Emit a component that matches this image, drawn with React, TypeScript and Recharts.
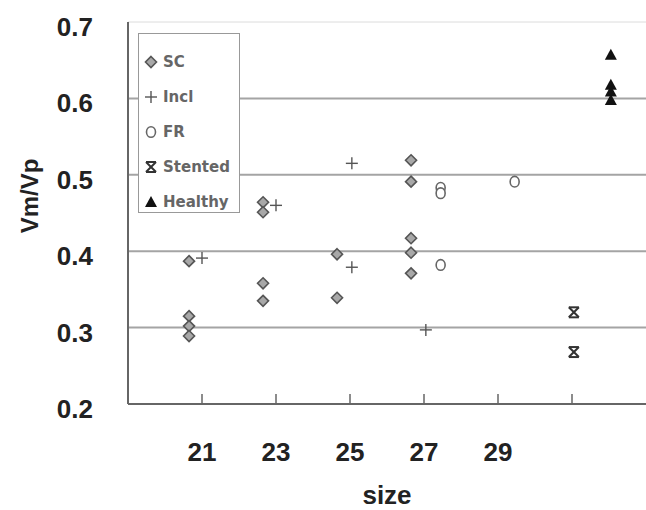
import React from 'react';
import { ScatterChart, Scatter, XAxis, YAxis, CartesianGrid, Legend } from 'recharts';

// ---- data ----
const sizeTicks = [21, 23, 25, 27, 29, 31];
const sizeTickLabels = ['21', '23', '25', '27', '29', ''];
const ratioTicks = [0.2, 0.3, 0.4, 0.5, 0.6, 0.7];
const gridValues = [0.3, 0.4, 0.5, 0.6];
const topGridValues = [0.7];

const scSize = [20.65, 20.65, 20.65, 20.65, 22.65, 22.65, 22.65, 22.65, 24.65, 24.65, 26.65, 26.65, 26.65, 26.65, 26.65];
const scRatio = [0.387, 0.315, 0.302, 0.289, 0.464, 0.451, 0.358, 0.335, 0.396, 0.339, 0.519, 0.491, 0.417, 0.398, 0.371];

const inclSize = [21.0, 23.0, 25.05, 25.05, 27.05];
const inclRatio = [0.391, 0.46, 0.515, 0.379, 0.297];

const frSize = [27.45, 27.45, 27.45, 29.45];
const frRatio = [0.483, 0.476, 0.382, 0.491];

const stentedSize = [31.05, 31.05];
const stentedRatio = [0.32, 0.268];

const healthySize = [32.05, 32.05, 32.05, 32.05];
const healthyRatio = [0.657, 0.618, 0.609, 0.598];

const seriesNames = ['SC', 'Incl', 'FR', 'Stented', 'Healthy'];
const seriesKinds = ['sc', 'incl', 'fr', 'stented', 'healthy'];

const toPoints = (xs: number[], ys: number[]) => xs.map((x, i) => ({ x, y: ys[i] }));

const scData = toPoints(scSize, scRatio);
const inclData = toPoints(inclSize, inclRatio);
const frData = toPoints(frSize, frRatio);
const stentedData = toPoints(stentedSize, stentedRatio);
const healthyData = toPoints(healthySize, healthyRatio);

const AXIS_FONT = '"Liberation Sans", Arial, sans-serif';
const LEGEND_FONT = '"DejaVu Sans", sans-serif';

function Marker({ kind, cx, cy }: { kind: string; cx: number; cy: number }) {
  if (cx == null || cy == null) return null;
  switch (kind) {
    case 'sc':
      return (
        <polygon
          points={`${cx},${cy - 5.5} ${cx + 5.5},${cy} ${cx},${cy + 5.5} ${cx - 5.5},${cy}`}
          fill="#a8a8a8"
          stroke="#555"
          strokeWidth={1.6}
        />
      );
    case 'incl':
      return (
        <g stroke="#555" strokeWidth={1.4}>
          <line x1={cx - 6} y1={cy} x2={cx + 6} y2={cy} />
          <line x1={cx} y1={cy - 6} x2={cx} y2={cy + 6} />
        </g>
      );
    case 'fr':
      return <ellipse cx={cx} cy={cy} rx={4.5} ry={5.3} fill="#fff" stroke="#666" strokeWidth={1.6} />;
    case 'stented':
      return (
        <g stroke="#333" strokeWidth={2}>
          <line x1={cx - 5} y1={cy - 5} x2={cx + 5} y2={cy + 5} />
          <line x1={cx + 5} y1={cy - 5} x2={cx - 5} y2={cy + 5} />
          <line x1={cx - 5} y1={cy - 5} x2={cx + 5} y2={cy - 5} />
          <line x1={cx - 5} y1={cy + 5} x2={cx + 5} y2={cy + 5} />
        </g>
      );
    case 'healthy':
      return <polygon points={`${cx},${cy - 6} ${cx + 6},${cy + 5} ${cx - 6},${cy + 5}`} fill="#111" />;
    default:
      return null;
  }
}

const shapeFor = (kind: string) => (p: any) => <Marker kind={kind} cx={p.cx} cy={p.cy} />;

function XTick(props: any) {
  const { x, y, payload } = props;
  const idx = sizeTicks.indexOf(payload.value);
  const label = idx >= 0 ? sizeTickLabels[idx] : '';
  return (
    <g>
      <line x1={x} y1={y - 10} x2={x} y2={y} stroke="#666" strokeWidth={1.5} />
      <text x={x} y={y + 57} textAnchor="middle" fontFamily={AXIS_FONT} fontWeight="bold" fontSize={26} fill="#222">
        {label}
      </text>
    </g>
  );
}

function YTick(props: any) {
  const { x, y, payload } = props;
  return (
    <text x={x - 35} y={y + 14} textAnchor="end" fontFamily={AXIS_FONT} fontWeight="bold" fontSize={26} fill="#222">
      {Number(payload.value).toFixed(1)}
    </text>
  );
}

function YLabel(props: any) {
  const vb = props.viewBox || { x: 0, y: 22, width: 128, height: 382 };
  const cx = vb.x + 38;
  const cy = vb.y + vb.height / 2 - 17;
  return (
    <text
      transform={`translate(${cx},${cy}) rotate(-90)`}
      textAnchor="middle"
      fontFamily={AXIS_FONT}
      fontWeight="bold"
      fontSize={24}
      fill="#222"
    >
      Vm/Vp
    </text>
  );
}

function XLabel(props: any) {
  const vb = props.viewBox || { x: 128, y: 404, width: 518, height: 106 };
  return (
    <text
      x={vb.x + vb.width / 2}
      y={vb.y + 100}
      textAnchor="middle"
      fontFamily={AXIS_FONT}
      fontWeight="bold"
      fontSize={26}
      fill="#222"
    >
      size
    </text>
  );
}

function LegendBox() {
  return (
    <div
      style={{
        width: 102,
        height: 180,
        border: '1.5px solid #999',
        background: '#fff',
        boxSizing: 'border-box',
        paddingTop: 10,
      }}
    >
      {seriesNames.map((name, i) => (
        <div key={name} style={{ display: 'flex', alignItems: 'center', height: 35 }}>
          <svg width={24} height={20} style={{ display: 'block' }}>
            <Marker kind={seriesKinds[i]} cx={12} cy={10} />
          </svg>
          <span
            style={{
              fontFamily: LEGEND_FONT,
              fontWeight: 'bold',
              fontSize: 15,
              color: '#666',
              lineHeight: '20px',
            }}
          >
            {name}
          </span>
        </div>
      ))}
    </div>
  );
}

export default function App() {
  return (
    <div style={{ position: 'absolute', left: 0, top: 0, width: 646, height: 510, background: '#fff' }}>
      <ScatterChart width={646} height={510} margin={{ top: 22, right: 0, bottom: 0, left: 0 }}>
        <CartesianGrid horizontal vertical={false} horizontalValues={topGridValues} stroke="#dcdcdc" strokeWidth={1} />
        <CartesianGrid horizontal vertical={false} horizontalValues={gridValues} stroke="#a4a4a4" strokeWidth={2} />
        <XAxis
          type="number"
          dataKey="x"
          domain={[19, 33]}
          ticks={sizeTicks}
          allowDataOverflow
          height={106}
          tickSize={0}
          tickMargin={0}
          tickLine={false}
          axisLine={{ stroke: '#666', strokeWidth: 2 }}
          tick={<XTick />}
          label={<XLabel />}
        />
        <YAxis
          type="number"
          dataKey="y"
          domain={[0.2, 0.7]}
          ticks={ratioTicks}
          allowDataOverflow
          width={128}
          tickSize={0}
          tickMargin={0}
          tickLine={false}
          axisLine={{ stroke: '#666', strokeWidth: 2 }}
          tick={<YTick />}
          label={<YLabel />}
        />
        <Legend
          layout="vertical"
          align="center"
          verticalAlign="middle"
          content={<LegendBox />}
          wrapperStyle={{ left: 138, top: 33, width: 104 }}
        />
        <Scatter name="SC" data={scData} shape={shapeFor('sc')} isAnimationActive={false} />
        <Scatter name="Incl" data={inclData} shape={shapeFor('incl')} isAnimationActive={false} />
        <Scatter name="FR" data={frData} shape={shapeFor('fr')} isAnimationActive={false} />
        <Scatter name="Stented" data={stentedData} shape={shapeFor('stented')} isAnimationActive={false} />
        <Scatter name="Healthy" data={healthyData} shape={shapeFor('healthy')} isAnimationActive={false} />
      </ScatterChart>
    </div>
  );
}
